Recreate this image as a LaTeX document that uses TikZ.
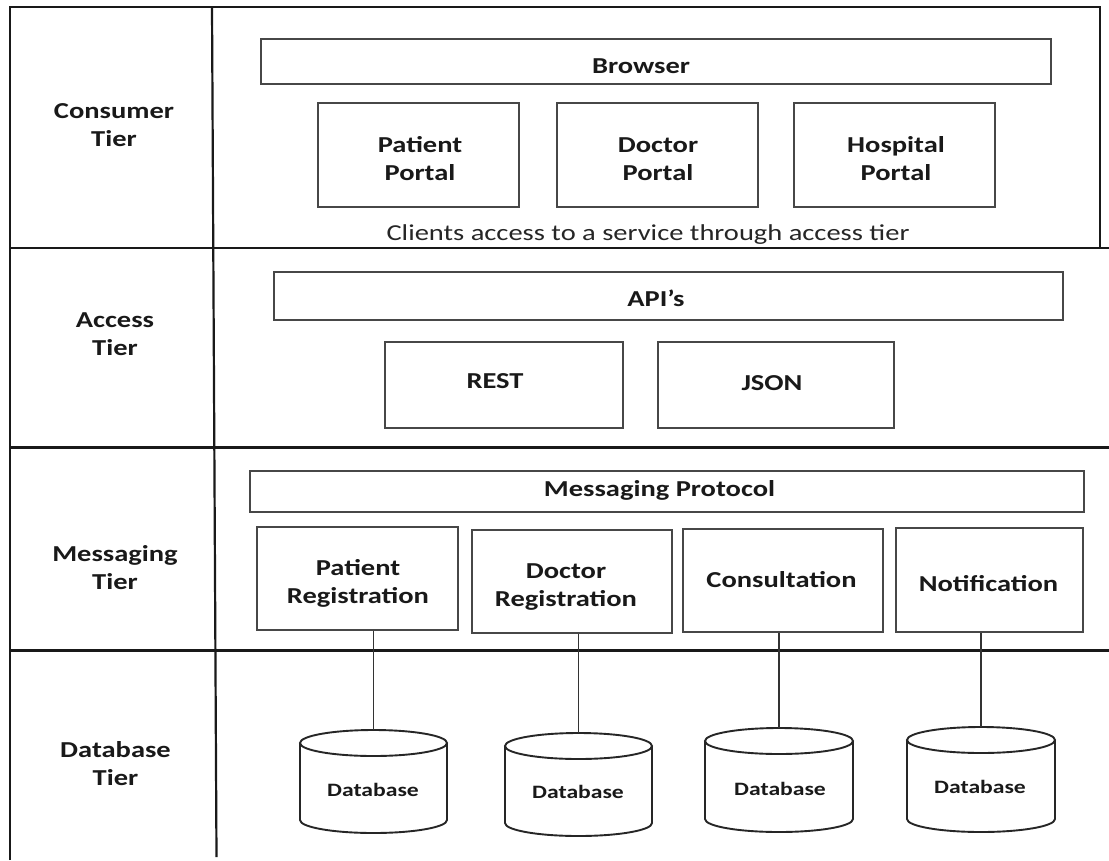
\documentclass[tikz,border=0pt]{standalone}
\usepackage{fontspec}
\setmainfont{Carlito}[FakeStretch=1.25]
\newcommand\dbcyl[5]{%
  \coordinate (#1) at (#2,#3);
  \filldraw[cylline] (#2-#5,#3+13) -- (#2-#5,#4-13) arc[start angle=180,end angle=360,x radius=#5pt,y radius=13pt] -- (#2+#5,#3+13);
  \filldraw[cylline] (#2,#3+13) ellipse[x radius=#5pt,y radius=13pt];
}
\begin{document}
\begin{tikzpicture}[x=1pt,y=-1pt,
  tier/.style={line width=2.2pt, draw=black!90},
  bx/.style 2 args={draw=black!72, line width=1.3pt, fill=white, minimum width=#1pt, minimum height=#2pt, inner sep=0pt},
  lbl/.style={inner sep=0pt, align=center, text=black!90, font=\fontsize{22.8}{28}\selectfont\bfseries},
  note/.style={inner sep=0pt, text=black!85, font=\fontsize{22.8}{28}\selectfont},
  dbl/.style={inner sep=0pt, text=black!90, font=\fontsize{18.9}{23}\selectfont\bfseries},
  cylline/.style={draw=black!85, line width=1.9pt, fill=white},
  conn/.style={draw=black!80, line width=1.4pt}
]
\useasboundingbox (0,0) rectangle (1109,860);
\fill[white] (0,0) rectangle (1109,860);

% consumer tier note (under the tier line)
\node[note, anchor=base] (clients) at (648,240) {Clients access to a service through access tier};

% tier frame
\draw[tier] (10,860) -- (10,7) -- (1100,7) -- (1100,248);
\draw[tier] (212,7) -- (216.5,857);
\draw[tier] (10,248) -- (1109,248);
\draw[tier] (10,447.5) -- (1109,447.5);
\draw[tier] (10,650.5) -- (1109,650.5);

% tier labels
\node[lbl] (tcons) at (114,125) {Consumer\\Tier};
\node[lbl] (tacc) at (115,334) {Access\\Tier};
\node[lbl] (tmsg) at (115,568) {Messaging\\Tier};
\node[lbl] (tdb) at (115.5,764) {Database\\Tier};

% consumer tier
\node[bx={790}{45}] (browser) at (656,61.5) {};
\node[lbl] (browserT) at (641,66) {Browser};
\node[bx={201}{104}] (pportal) at (418.5,155) {};
\node[lbl] (pportalT) at (420,159) {Patient\\Portal};
\node[bx={201}{104}] (dportal) at (657.5,155) {};
\node[lbl] (dportalT) at (658,159) {Doctor\\Portal};
\node[bx={201}{104}] (hportal) at (894.5,155) {};
\node[lbl] (hportalT) at (896,159) {Hospital\\Portal};

% access tier
\node[bx={789}{48}] (api) at (668.5,296) {};
\node[lbl] (apiT) at (656,298.5) {API’s};
\node[bx={238}{86}] (rest) at (504,385) {};
\node[lbl] (restT) at (495,381.5) {REST};
\node[bx={236}{86}] (json) at (776,385) {};
\node[lbl] (jsonT) at (772,383) {JSON};

% messaging tier
\node[bx={834}{41}] (msg) at (667,491.5) {};
\node[lbl] (msgT) at (659.5,490) {Messaging Protocol};
\node[bx={201}{103}] (preg) at (357.5,578.5) {};
\node[lbl] (pregT) at (358,583) {Patient\\Registration};
\node[bx={200}{103}] (dreg) at (572,581.5) {};
\node[lbl] (dregT) at (566,587) {Doctor\\Registration};
\node[bx={200}{103}] (cons) at (783,580.5) {};
\node[lbl] (consT) at (781.5,580) {Consultation};
\node[bx={187}{104}] (notif) at (989.5,580) {};
\node[lbl] (notifT) at (988.5,583.5) {Notification};

% database tier
\dbcyl{cyl1}{373.5}{730}{833}{73.5}
\dbcyl{cyl2}{578.5}{733}{836}{73.5}
\dbcyl{cyl3}{779}{728}{832}{74}
\dbcyl{cyl4}{981}{727}{832}{74}
\node[dbl] (db1) at (373,790) {Database};
\node[dbl] (db2) at (578,791.5) {Database};
\node[dbl] (db3) at (780,789) {Database};
\node[dbl] (db4) at (980,787) {Database};

% connectors
\draw[conn] (preg.south -| cyl1) -- (cyl1);
\draw[conn] (dreg.south -| cyl2) -- (cyl2);
\draw[conn] (cons.south -| cyl3) -- (cyl3);
\draw[conn] (notif.south -| cyl4) -- (cyl4);
\end{tikzpicture}
\end{document}
